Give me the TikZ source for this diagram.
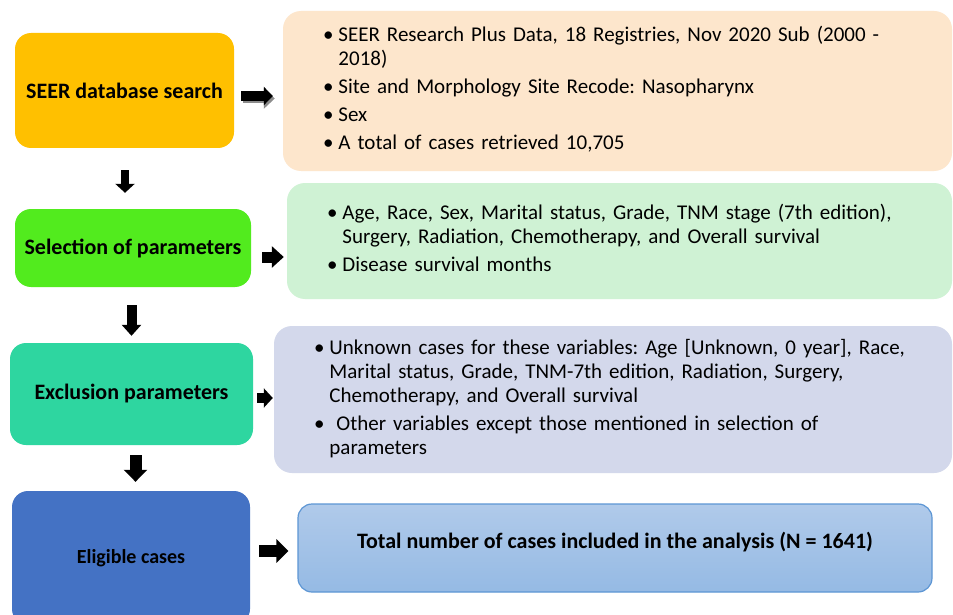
\documentclass[tikz,border=0pt]{standalone}
\usepackage{fontspec}
\setmainfont{Carlito}
\frenchspacing
\usetikzlibrary{arrows.meta, backgrounds}

\definecolor{seerfill}{RGB}{255,192,0}
\definecolor{selfill}{RGB}{82,235,30}
\definecolor{exclfill}{RGB}{46,214,160}
\definecolor{eligfill}{RGB}{68,114,196}
\definecolor{seerpale}{RGB}{253,230,204}
\definecolor{selpale}{RGB}{207,242,212}
\definecolor{exclpale}{RGB}{211,216,235}
\definecolor{totaltop}{RGB}{176,202,234}
\definecolor{totalbottom}{RGB}{149,186,228}
\definecolor{totalline}{RGB}{93,150,212}

\begin{document}
\begin{tikzpicture}[x=1pt, y=-1pt, font=\fontsize{21}{24}\selectfont,
		mainbox/.style={rounded corners=16pt, inner sep=0pt, font=\fontsize{22}{26}\selectfont\bfseries},
		infobox/.style={inner xsep=40pt, inner ysep=0pt, align=left},
		fatarrow/.style={line width=10pt, -{Triangle[length=11pt,width=20pt]}}]
			\clip (0,0) rectangle (953,615);
			\fill[white] (0,0) rectangle (953,615);

			\node[mainbox, fill=seerfill, minimum width=219pt, minimum height=115pt] (seer) at (124.5,90.5) {SEER database search};
			\node[mainbox, fill=selfill, minimum width=236pt, minimum height=78pt] (sel) at (133,248) {Selection of parameters};
			\node[mainbox, fill=exclfill, minimum width=243pt, minimum height=102pt] (excl) at (131.5,394) {Exclusion parameters};
			\node[mainbox, fill=eligfill, minimum width=238pt, minimum height=134pt, font=\fontsize{20}{24}\selectfont\bfseries] (elig) at (131,558) {Eligible cases};

			\node[infobox, fill=seerpale, rounded corners=18pt, minimum width=669pt, minimum height=160pt, text width=589pt] (seerinfo) at (617.5,91) {%
				\begin{tabular}{@{}l@{\hspace{5pt}}l@{}}
					\textbullet & SEER Research Plus Data, 18 Registries, Nov 2020 Sub (2000 -\\
					& 2018)\\[4pt]
					\textbullet & Site and Morphology Site Recode: Nasopharynx\\[4pt]
					\textbullet & Sex\\[4pt]
					\textbullet & A total of cases retrieved 10,705
				\end{tabular}};
			\node[infobox, fill=selpale, rounded corners=18pt, minimum width=665pt, minimum height=116pt, text width=585pt] (selinfo) at (619.5,241) {%
				\begin{tabular}{@{}l@{\hspace{5pt}}l@{}}
					\textbullet & Age, Race, Sex, Marital status, Grade, TNM stage (7th edition),\\
					& Surgery, Radiation, Chemotherapy, and Overall survival\\[4pt]
					\textbullet & Disease survival months
				\end{tabular}};
			\node[infobox, fill=exclpale, rounded corners=18pt, minimum width=678pt, minimum height=147pt, text width=598pt] (exclinfo) at (613,399.5) {%
				\begin{tabular}{@{}l@{\hspace{5pt}}l@{}}
					\textbullet & Unknown cases for these variables: Age [Unknown, 0 year], Race,\\
					& Marital status, Grade, TNM-7th edition, Radiation, Surgery,\\
					& Chemotherapy, and Overall survival\\[4pt]
					\textbullet & \ Other variables except those mentioned in selection of\\
					& parameters
				\end{tabular}};

			\node[draw=totalline, line width=1.2pt, top color=totaltop, bottom color=totalbottom, rounded corners=14pt, minimum width=634pt, minimum height=88pt] (total) at (615,548) {};
			\node[font=\fontsize{22}{26}\selectfont\bfseries] (totaltext) at ([yshift=6pt]total.center) {Total number of cases included in the analysis (N = 1641)};

			\begin{scope}[on background layer]
				\fill[seerpale] (seerinfo.north west) rectangle (seerinfo.south);
				\fill[selpale] (selinfo.north west) rectangle (selinfo.south);
				\fill[exclpale] (exclinfo.north west) rectangle (exclinfo.south);
			\end{scope}

			\draw[fatarrow, black!45, transform canvas={xshift=2pt, yshift=-2.5pt}] ([xshift=7pt, yshift=-5.5pt]seer.east) -- ([xshift=-10pt, yshift=-5pt]seerinfo.west);
			\draw[fatarrow, -{Triangle[length=9pt,width=18pt]}] ([xshift=7pt, yshift=-5.5pt]seer.east) -- ([xshift=-10pt, yshift=-5pt]seerinfo.west);
			\draw[fatarrow, line width=11pt, -{Triangle[length=12pt,width=21pt]}] ([xshift=11pt, yshift=-9pt]sel.east) -- ([xshift=-3pt, yshift=-16pt]selinfo.west);
			\draw[fatarrow, -{Triangle[length=9pt,width=19pt]}] ([xshift=4pt, yshift=-4pt]excl.east) -- ([xshift=-1pt, yshift=1.5pt]exclinfo.west);
			\draw[fatarrow, line width=12pt, -{Triangle[length=12pt,width=23pt]}] ([xshift=9pt, yshift=7pt]elig.east) -- ([xshift=-9pt, yshift=-3pt]total.west);

			\draw[fatarrow, line width=8pt, -{Triangle[length=9pt,width=19pt]}] ([xshift=0.5pt, yshift=-22pt]seer.south) -- ([xshift=-8pt, yshift=16pt]sel.north);
			\draw[fatarrow, -{Triangle[length=11pt,width=19pt]}] ([xshift=-1.5pt, yshift=-18pt]sel.south) -- ([yshift=7pt]excl.north);
			\draw[fatarrow, line width=12pt, -{Triangle[length=12pt,width=23pt]}] ([xshift=4pt, yshift=-10pt]excl.south) -- ([xshift=4.5pt, yshift=9pt]elig.north);
		\end{tikzpicture}
\end{document}
